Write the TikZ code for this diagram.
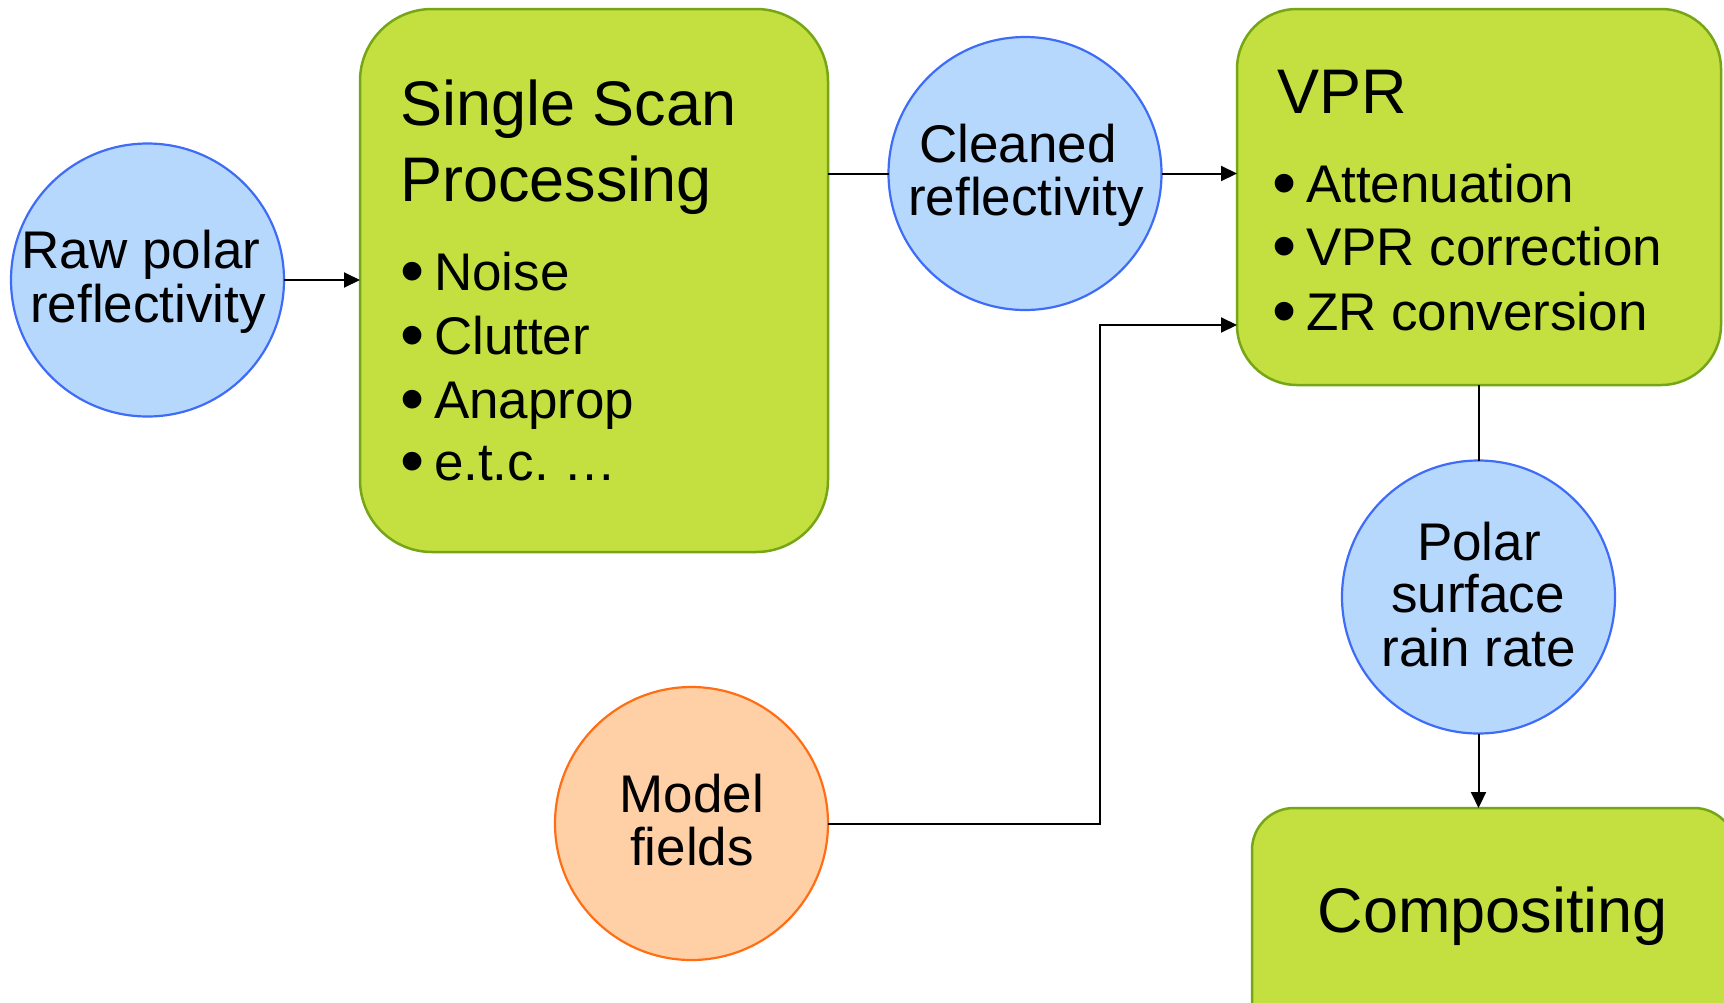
\documentclass[tikz,border=0pt]{standalone}
\usepackage{fontspec}
\setmainfont{Liberation Sans}
\usetikzlibrary{arrows.meta}
\frenchspacing

\definecolor{procfill}{RGB}{196,224,64}
\definecolor{procline}{RGB}{118,166,22}
\definecolor{datafill}{RGB}{182,216,252}
\definecolor{dataline}{RGB}{62,108,248}
\definecolor{modelfill}{RGB}{255,208,166}
\definecolor{modelline}{RGB}{255,110,20}

\tikzset{
  procbox/.style={draw=procline, fill=procfill, line width=1.25pt,
    rectangle, inner sep=0pt, outer sep=0pt},
  datanode/.style={draw=dataline, fill=datafill, line width=1.1pt,
    circle, minimum size=136.5pt, inner sep=0pt, outer sep=0pt},
  modelnode/.style={draw=modelline, fill=modelfill, line width=1.1pt,
    circle, minimum size=136.5pt, inner sep=0pt, outer sep=0pt},
  body/.style={inner sep=0pt, outer sep=0pt, anchor=base,
    font=\fontsize{26.5}{31.8}\selectfont},
  bodyl/.style={body, anchor=base west},
  title/.style={inner sep=0pt, outer sep=0pt, anchor=base west,
    font=\fontsize{31.5}{37.8}\selectfont},
  link/.style={line width=1pt, black},
  arr/.style={link, -{Triangle[length=8pt,width=7.5pt]}},
}
% bullet item: enlarged dot with a hanging indent
\newcommand{\bul}[1]{\makebox[17pt][l]{\raisebox{-0.09em}{\scalebox{1.3}{•}}}#1}

\begin{document}
\begin{tikzpicture}[x=0.5pt, y=-0.5pt]
  \clip (0,0) rectangle (1724,1002);
  \fill[white] (0,0) rectangle (1724,1002);

  % shapes
  \node[datanode] (raw) at (147.5,280) {};
  \node[procbox, rounded corners=36pt, minimum width=234pt, minimum height=271.5pt]
    (ssp) at (594,280.5) {};
  \node[datanode] (clean) at (1025,173.5) {};
  \node[procbox, rounded corners=30pt, minimum width=242pt, minimum height=188pt]
    (vpr) at (1479,197) {};
  \node[datanode] (polar) at (1478.5,597) {};
  \node[procbox, rounded corners=21pt, minimum width=242pt, minimum height=146pt]
    (comp) at (1494,954) {};
  \node[modelnode] (model) at (691.5,823.5) {};

  % texts
  \node[body] (rawA) at (141,268) {Raw polar};
  \node[body] (rawB) at (148,322) {reflectivity};

  \node[title] (sspA) at (400,125) {Single Scan};
  \node[title] (sspB) at (400,201) {Processing};
  \node[bodyl] (sspC) at (400,290) {\bul{Noise}};
  \node[bodyl] (sspD) at (400,354) {\bul{Clutter}};
  \node[bodyl] (sspE) at (400,418) {\bul{Anaprop}};
  \node[bodyl] (sspF) at (400,480) {\bul{e.t.c. …}};

  \node[body] (cleanA) at (1018,162) {Cleaned};
  \node[body] (cleanB) at (1026,215) {reflectivity};

  \node[title] (vprA) at (1277,113) {VPR};
  \node[bodyl] (vprB) at (1272,202) {\bul{Attenuation}};
  \node[bodyl] (vprC) at (1272,265) {\bul{VPR correction}};
  \node[bodyl] (vprD) at (1272,330) {\bul{ZR conversion}};

  \node[body] (polarA) at (1479,560) {Polar};
  \node[body] (polarB) at (1478,612) {surface};
  \node[body] (polarC) at (1479,666) {rain rate};

  \node[body] (modelA) at (692,812) {Model};
  \node[body] (modelB) at (692,865) {fields};

  \node[title, anchor=base] (compA) at (1493,932) {Compositing};

  % connectors
  \coordinate (bend) at (1100,325);
  \draw[arr] (raw.east) -- (ssp.west |- raw.east);
  \draw[link] (ssp.east |- clean.west) -- (clean.west);
  \draw[arr] (clean.east) -- (vpr.west |- clean.east);
  \draw[arr] (model.east) -| (bend) -- (vpr.west |- bend);
  \draw[link] (vpr.south -| polar.north) -- (polar.north);
  \draw[arr] (polar.south) -- (polar.south |- comp.north);
\end{tikzpicture}
\end{document}
